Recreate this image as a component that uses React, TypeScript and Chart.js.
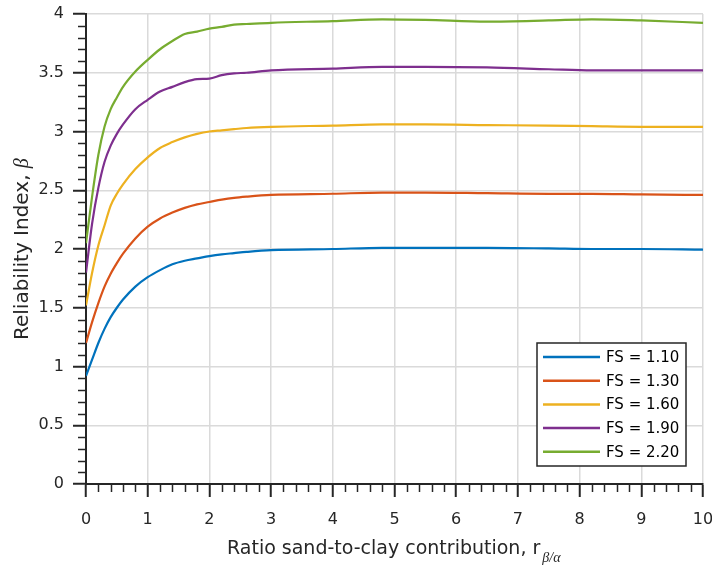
import React, { useEffect, useRef } from 'react';
import { Chart, registerables } from 'chart.js';

Chart.register(...registerables);

// Ratio sand-to-clay contribution r_{beta/alpha}
const ratioX = [0, 0.1, 0.2, 0.3, 0.4, 0.5, 0.6, 0.8, 1.0, 1.2, 1.4, 1.6, 1.8, 2.0, 2.2, 2.4, 2.6, 3, 4, 4.8, 5.5, 6.5, 7.5, 8.2, 9, 10];

// Reliability index beta for each factor of safety
const betaFS110 = [0.92, 1.06, 1.20, 1.32, 1.42, 1.50, 1.57, 1.68, 1.76, 1.82, 1.87, 1.90, 1.92, 1.94, 1.955, 1.965, 1.975, 1.99, 2.0, 2.01, 2.01, 2.01, 2.005, 2.0, 2.0, 1.995];
const betaFS130 = [1.20, 1.38, 1.54, 1.68, 1.79, 1.88, 1.96, 2.09, 2.19, 2.26, 2.31, 2.35, 2.38, 2.40, 2.42, 2.435, 2.445, 2.46, 2.47, 2.48, 2.48, 2.475, 2.47, 2.47, 2.465, 2.46];
const betaFS160 = [1.52, 1.80, 2.03, 2.20, 2.37, 2.47, 2.55, 2.68, 2.78, 2.86, 2.91, 2.95, 2.98, 3.0, 3.01, 3.02, 3.03, 3.04, 3.05, 3.06, 3.06, 3.055, 3.05, 3.045, 3.04, 3.04];
const betaFS190 = [1.80, 2.22, 2.52, 2.74, 2.88, 2.98, 3.06, 3.19, 3.27, 3.34, 3.38, 3.42, 3.445, 3.45, 3.48, 3.495, 3.50, 3.52, 3.535, 3.55, 3.55, 3.545, 3.53, 3.52, 3.52, 3.52];
const betaFS220 = [2.05, 2.45, 2.80, 3.04, 3.19, 3.29, 3.38, 3.51, 3.61, 3.70, 3.77, 3.83, 3.85, 3.875, 3.89, 3.91, 3.915, 3.925, 3.94, 3.955, 3.95, 3.935, 3.945, 3.955, 3.945, 3.925];

const seriesLabels = ['FS = 1.10', 'FS = 1.30', 'FS = 1.60', 'FS = 1.90', 'FS = 2.20'];
const seriesColors = ['#0072BD', '#D95319', '#EDB120', '#7E2F8E', '#77AC30'];
const seriesValues = [betaFS110, betaFS130, betaFS160, betaFS190, betaFS220];

const xTitle = 'Ratio sand-to-clay contribution, r';
const xTitleSub = 'β/α';
const yTitle = 'Reliability Index, ';
const yTitleSym = 'β';

const FONT = "'DejaVu Sans', sans-serif";
const AXIS_COLOR = '#262626';
const GRID_COLOR = '#dadada';
const MAJOR_LEN = 13;
const MINOR_LEN = 8;

const isMajorX = (v: number) => Math.abs(v - Math.round(v)) < 1e-6;
const isMajorY = (v: number) => Math.abs(v * 2 - Math.round(v * 2)) < 1e-6;

const decorPlugin = {
  id: 'decor',
  afterDraw(chart: any) {
    const ctx = chart.ctx as CanvasRenderingContext2D;
    const { left, right, bottom } = chart.chartArea;
    const xs = chart.scales.x;
    const ys = chart.scales.y;
    ctx.save();

    // minor ticks
    ctx.strokeStyle = AXIS_COLOR;
    ctx.lineWidth = 1.5;
    xs.ticks.forEach((t: any) => {
      if (!isMajorX(t.value)) {
        const p = Math.round(xs.getPixelForValue(t.value)) + 0.5;
        ctx.beginPath();
        ctx.moveTo(p, bottom);
        ctx.lineTo(p, bottom + MINOR_LEN);
        ctx.stroke();
      }
    });
    ys.ticks.forEach((t: any) => {
      if (!isMajorY(t.value)) {
        const p = Math.round(ys.getPixelForValue(t.value)) + 0.5;
        ctx.beginPath();
        ctx.moveTo(left, p);
        ctx.lineTo(left - MINOR_LEN, p);
        ctx.stroke();
      }
    });

    // legend
    const boxW = 149;
    const boxH = 123;
    const bx = right - 17 - boxW;
    const by = bottom - 18 - boxH;
    ctx.fillStyle = '#ffffff';
    ctx.fillRect(bx, by, boxW, boxH);
    ctx.strokeStyle = AXIS_COLOR;
    ctx.lineWidth = 1.5;
    ctx.strokeRect(bx, by, boxW, boxH);
    ctx.font = `15px ${FONT}`;
    ctx.textBaseline = 'middle';
    ctx.textAlign = 'left';
    chart.data.datasets.forEach((ds: any, i: number) => {
      const cy = by + 14 + i * 23.7;
      ctx.strokeStyle = ds.borderColor;
      ctx.lineWidth = 2.5;
      ctx.beginPath();
      ctx.moveTo(bx + 6, cy);
      ctx.lineTo(bx + 63, cy);
      ctx.stroke();
      ctx.fillStyle = '#000000';
      ctx.fillText(ds.label, bx + 69, cy + 1);
    });

    // x title
    ctx.fillStyle = AXIS_COLOR;
    ctx.textBaseline = 'alphabetic';
    ctx.font = `19px ${FONT}`;
    const xStart = 227;
    const xBase = 554;
    ctx.fillText(xTitle, xStart, xBase);
    const wx = ctx.measureText(xTitle).width;
    ctx.font = "italic 14px 'Liberation Serif', serif";
    ctx.fillText(xTitleSub, xStart + wx + 2, xBase + 8);

    // y title
    ctx.translate(28, 340);
    ctx.rotate(-Math.PI / 2);
    ctx.font = `20px ${FONT}`;
    ctx.fillText(yTitle, 0, 0);
    const wy = ctx.measureText(yTitle).width;
    ctx.font = "italic 20px 'Liberation Serif', serif";
    ctx.fillText(yTitleSym, wy, 0);

    ctx.restore();
  },
};

export default function App() {
  const ref = useRef<HTMLCanvasElement>(null);

  useEffect(() => {
    const canvas = ref.current;
    if (!canvas) return;
    const datasets = seriesValues.map((vals, i) => ({
      label: seriesLabels[i],
      data: ratioX.map((x, j) => ({ x, y: vals[j] })),
      borderColor: seriesColors[i],
      backgroundColor: seriesColors[i],
      borderWidth: 2.2,
      pointRadius: 0,
      fill: false,
      cubicInterpolationMode: 'monotone' as const,
    }));

    const chart = new Chart(canvas, {
      type: 'line',
      data: { datasets },
      options: {
        animation: false,
        responsive: false,
        devicePixelRatio: 1,
        events: [],
        layout: { padding: { left: 0, top: 14, right: 9, bottom: 0 } },
        plugins: {
          legend: { display: false },
          tooltip: { enabled: false },
          title: { display: false },
        },
        scales: {
          x: {
            type: 'linear',
            min: 0,
            max: 10,
            afterFit: (s: any) => {
              s.height = 83;
              s.paddingLeft = 0;
              s.paddingRight = 0;
            },
            border: { display: true, color: AXIS_COLOR, width: 2 },
            grid: {
              color: (c: any) => (isMajorX(c.tick.value) ? GRID_COLOR : 'rgba(0,0,0,0)'),
              lineWidth: 1.5,
              tickLength: MAJOR_LEN,
              tickWidth: 2,
              tickColor: (c: any) => (isMajorX(c.tick.value) ? AXIS_COLOR : 'rgba(0,0,0,0)'),
            },
            ticks: {
              stepSize: 0.2,
              autoSkip: false,
              maxRotation: 0,
              padding: 13,
              color: AXIS_COLOR,
              font: { family: FONT, size: 16 },
              callback: (v: any) => (isMajorX(Number(v)) ? String(Math.round(Number(v))) : ''),
            },
          },
          y: {
            type: 'linear',
            min: 0,
            max: 4,
            afterFit: (s: any) => {
              s.width = 86;
              s.paddingTop = 0;
              s.paddingBottom = 0;
            },
            border: { display: true, color: AXIS_COLOR, width: 2 },
            grid: {
              color: (c: any) => (isMajorY(c.tick.value) ? GRID_COLOR : 'rgba(0,0,0,0)'),
              lineWidth: 1.5,
              tickLength: MAJOR_LEN,
              tickWidth: 2,
              tickColor: (c: any) => (isMajorY(c.tick.value) ? AXIS_COLOR : 'rgba(0,0,0,0)'),
            },
            ticks: {
              stepSize: 0.1,
              autoSkip: false,
              padding: 9,
              color: AXIS_COLOR,
              font: { family: FONT, size: 16 },
              callback: (v: any) => {
                const n = Number(v);
                return isMajorY(n) ? String(Math.round(n * 10) / 10) : '';
              },
            },
          },
        },
      },
      plugins: [decorPlugin],
    });
    return () => chart.destroy();
  }, []);

  return (
    <div style={{ position: 'fixed', left: 0, top: 0, width: 712, height: 567, background: '#ffffff' }}>
      <canvas ref={ref} width={712} height={567} style={{ display: 'block', width: 712, height: 567 }} />
    </div>
  );
}
